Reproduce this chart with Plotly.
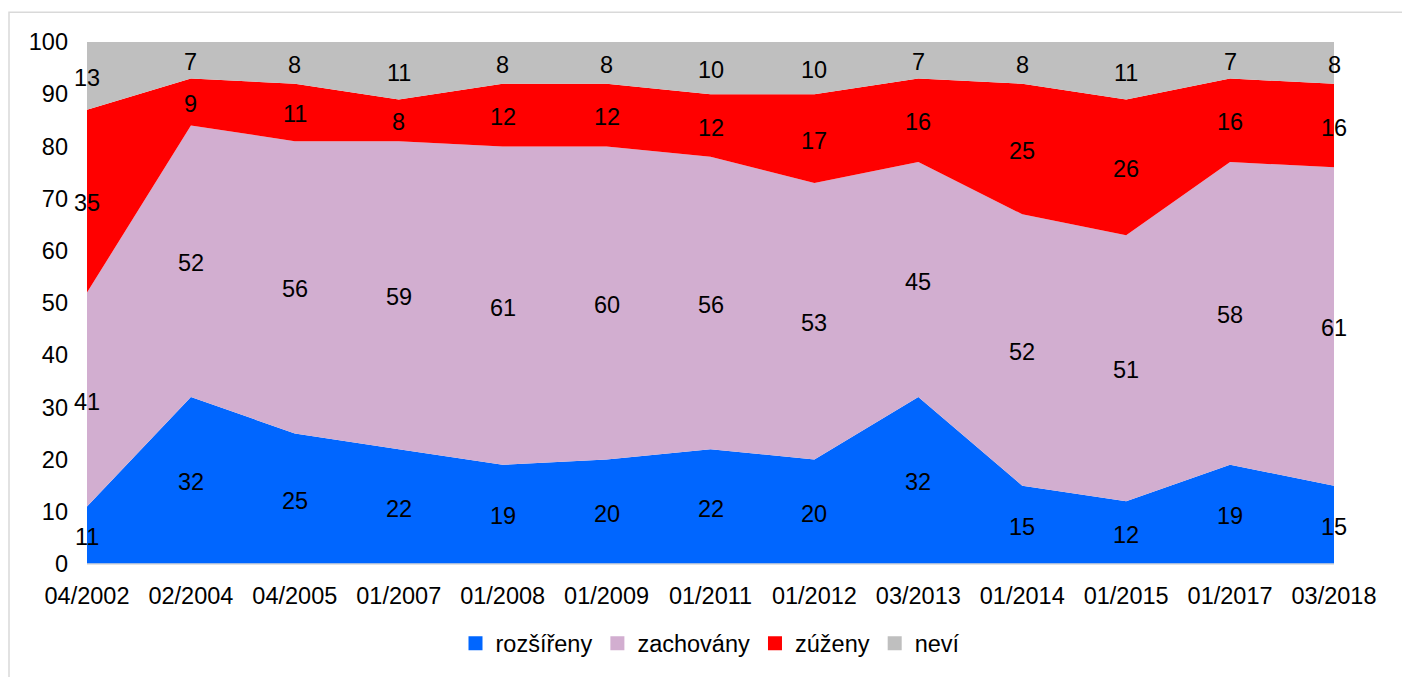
import plotly.graph_objects as go
import numpy as np

categories = ["04/2002", "02/2004", "04/2005", "01/2007", "01/2008", "01/2009", "01/2011",
              "01/2012", "03/2013", "01/2014", "01/2015", "01/2017", "03/2018"]
rozsireny = [11, 32, 25, 22, 19, 20, 22, 20, 32, 15, 12, 19, 15]
zachovany = [41, 52, 56, 59, 61, 60, 56, 53, 45, 52, 51, 58, 61]
zuzeny = [35, 9, 11, 8, 12, 12, 12, 17, 16, 25, 26, 16, 16]
nevi = [13, 7, 8, 11, 8, 8, 10, 10, 7, 8, 11, 7, 8]

series = [("rozšířeny", rozsireny, "#0066FF"),
          ("zachovány", zachovany, "#D2AED0"),
          ("zúženy", zuzeny, "#FF0000"),
          ("neví", nevi, "#BFBFBF")]

FONT = "Liberation Sans, Arial"
FS = 23.5

x = list(range(len(categories)))
fig = go.Figure()
for name, vals, col in series:
    fig.add_trace(go.Scatter(x=x, y=vals, name=name, stackgroup="one", mode="none",
                             fillcolor=col, line=dict(width=0), hoverinfo="skip",
                             showlegend=False))
for name, vals, col in series:
    fig.add_trace(go.Scatter(x=[None], y=[None], name=name, mode="markers",
                             marker=dict(symbol="square", size=14, color=col)))

annotations = []
base = np.zeros(len(categories))
for name, vals, col in series:
    v = np.array(vals, dtype=float)
    mid = base + v / 2
    for xi, yi, t in zip(x, mid, v):
        annotations.append(dict(x=xi, y=yi, xref="x", yref="y", text=str(int(t)),
                                showarrow=False, yshift=-2, xanchor="center", yanchor="middle",
                                font=dict(family=FONT, size=FS, color="black")))
    base = base + v

W, H = 1402, 677
L, R, T, B = 87, 68, 42, 109
PB = H - B
pw = W - L - R

def px_x(p):
    return (p - L) / pw

def px_y(p):
    return (PB - p) / (PB - T)

fig.update_layout(
    width=W, height=H,
    margin=dict(l=L, r=R, t=T, b=B),
    paper_bgcolor="white", plot_bgcolor="white",
    font=dict(family=FONT, size=FS, color="black"),
    showlegend=True,
    legend=dict(orientation="h", x=0.5, xanchor="center", y=px_y(648), yanchor="middle",
                font=dict(size=FS), traceorder="normal", itemwidth=30),
    xaxis=dict(range=[0, 12], tickvals=x, ticktext=categories, showgrid=False,
               zeroline=False, showline=False, ticks="", tickfont=dict(size=FS),
               automargin=False, ticklabelstandoff=15),
    yaxis=dict(range=[0, 100], tickvals=list(range(0, 101, 10)), showgrid=False,
               zeroline=False, showline=False, ticks="", tickfont=dict(size=FS),
               automargin=False, ticklabelstandoff=18),
    annotations=annotations,
    shapes=[
        dict(type="rect", xref="paper", yref="paper", x0=px_x(9), x1=px_x(1420),
             y0=px_y(700), y1=px_y(12), line=dict(color="#D9D9D9", width=1.5), layer="below"),
        dict(type="line", xref="paper", yref="paper", x0=0, x1=1, y0=0, y1=0,
             line=dict(color="#D9D9D9", width=1.5)),
    ],
)

fig.write_html("out.html", config={"displayModeBar": False},
               post_script="document.body.style.margin='0px';document.body.style.overflow='hidden';")
